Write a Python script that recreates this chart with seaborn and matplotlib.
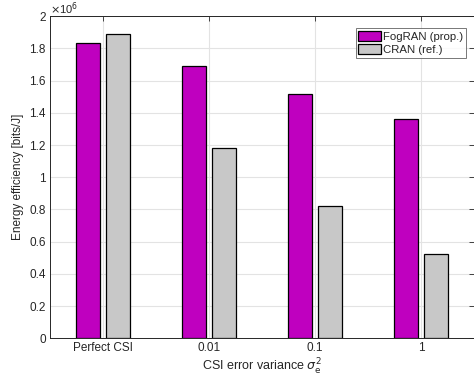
import numpy as np
import pandas as pd
import matplotlib
matplotlib.use("Agg")
import matplotlib.pyplot as plt
import seaborn as sns
from matplotlib.ticker import FuncFormatter

# Energy efficiency per CSI condition (bits/J)
categories = ["Perfect CSI", "0.01", "0.1", "1"]
fogran_ee = [1.832e6, 1.691e6, 1.517e6, 1.360e6]
cran_ee = [1.888e6, 1.180e6, 0.822e6, 0.522e6]
series_names = ["FogRAN (prop.)", "CRAN (ref.)"]
yticks = np.arange(0, 2.01e6, 0.2e6)

df = pd.DataFrame({
    "csi": categories * 2,
    "ee": fogran_ee + cran_ee,
    "scheme": [series_names[0]] * 4 + [series_names[1]] * 4,
})

sns.set_style("white")
plt.rcParams["font.family"] = ["Liberation Sans", "DejaVu Sans"]
plt.rcParams["mathtext.fontset"] = "dejavusans"

fig = plt.figure(figsize=(4.74, 3.78), dpi=100)
ax = fig.add_axes([0.1055, 0.105, 0.8945, 0.852])

palette = {series_names[0]: "#BF00BF", series_names[1]: "#C8C8C8"}
sns.barplot(data=df, x="csi", y="ee", hue="scheme", palette=palette,
            order=categories, hue_order=series_names,
            width=0.572, gap=0.19, edgecolor="black", linewidth=0.9,
            saturation=1, ax=ax, zorder=3)

ax.set_xlim(-0.5, 3.5)
ax.set_ylim(0, 2e6)
ax.set_yticks(yticks)
ax.yaxis.set_major_formatter(FuncFormatter(lambda v, p: f"{v / 1e6:g}"))
ax.grid(True, color="#E3E3E3", linewidth=0.8, zorder=0)
ax.set_axisbelow(True)

for s in ax.spines.values():
    s.set_color("#262626")
    s.set_linewidth(0.7)

ax.tick_params(axis="both", direction="in", length=3.5, width=0.6,
               colors="#262626", labelsize=8.5, top=True, right=True,
               labelcolor="#262626", pad=3)

ax.set_xlabel(r"CSI error variance $\sigma_\mathrm{e}^2$", fontsize=9, color="#262626", labelpad=2)
ax.set_ylabel("Energy efficiency [bits/J]", fontsize=8.5, color="#262626", labelpad=4)
ax.text(0.0, 1.007, r"$\times$10$^6$", transform=ax.transAxes, fontsize=8,
        color="#262626", ha="left", va="baseline")

leg = ax.legend(loc="upper right", bbox_to_anchor=(0.981, 0.962), fontsize=8.2,
                frameon=True, fancybox=False, edgecolor="#555555",
                handlelength=1.95, handleheight=0.95, handletextpad=0.2,
                borderpad=0.25, labelspacing=0.2, borderaxespad=0.0)
leg.get_frame().set_linewidth(0.7)
leg.set_title(None)

fig.savefig("out.png", dpi=100)
